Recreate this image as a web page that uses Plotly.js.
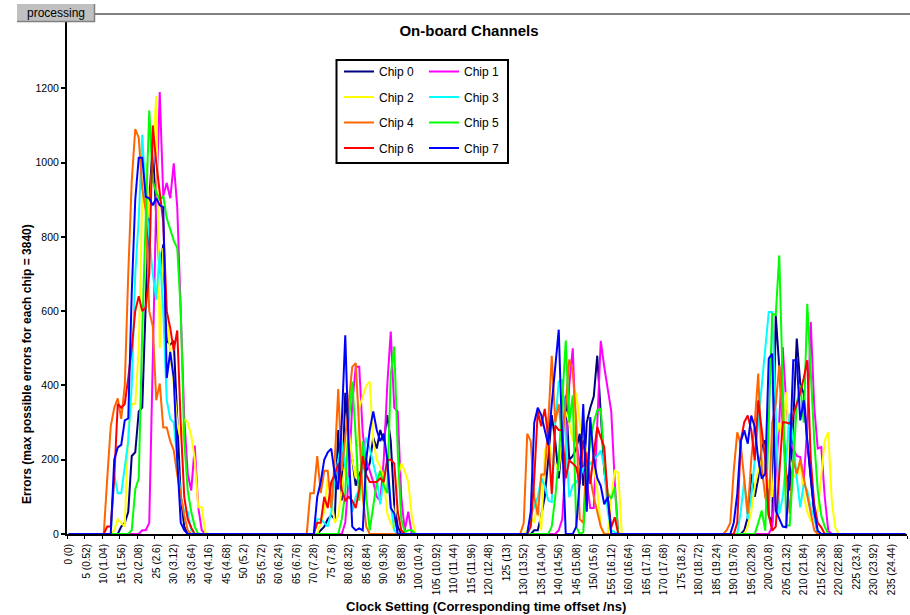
<!DOCTYPE html>
<html>
<head>
<meta charset="utf-8">
<script src="https://cdn.plot.ly/plotly-3.0.1.min.js"></script>
<style>
  html, body { margin: 0; padding: 0; background: #ffffff; }
  #chart { width: 910px; height: 615px; }
</style>
</head>
<body>
<div id="chart"></div>
<script>
// ---------------- DATA ----------------
// Clock settings (categories) 0..239
const clockSettings = Array.from({length: 240}, (_, i) => i);

// Tick positions and labels: "setting (time offset ns)"
const clockTicks = [0,5,10,15,20,25,30,35,40,45,50,55,60,65,70,75,80,85,90,95,100,105,110,115,
  120,125,130,135,140,145,150,155,160,165,170,175,180,185,190,195,200,205,210,215,220,225,230,235];
const tickLabels = ["0 (0)","5 (0.52)","10 (1.04)","15 (1.56)","20 (2.08)","25 (2.6)","30 (3.12)",
  "35 (3.64)","40 (4.16)","45 (4.68)","50 (5.2)","55 (5.72)","60 (6.24)","65 (6.76)","70 (7.28)",
  "75 (7.8)","80 (8.32)","85 (8.84)","90 (9.36)","95 (9.88)","100 (10.4)","105 (10.92)","110 (11.44)",
  "115 (11.96)","120 (12.48)","125 (13)","130 (13.52)","135 (14.04)","140 (14.56)","145 (15.08)",
  "150 (15.6)","155 (16.12)","160 (16.64)","165 (17.16)","170 (17.68)","175 (18.2)","180 (18.72)",
  "185 (19.24)","190 (19.76)","195 (20.28)","200 (20.8)","205 (21.32)","210 (21.84)","215 (22.36)",
  "220 (22.88)","225 (23.4)","230 (23.92)","235 (24.44)"];

const yTicks = [0, 200, 400, 600, 800, 1000, 1200];

const chipNames  = ["Chip 0","Chip 1","Chip 2","Chip 3","Chip 4","Chip 5","Chip 6","Chip 7"];
const chipColors = ["#000080","#FF00FF","#FFFF00","#00FFFF","#FF6600","#00FF00","#FF0000","#0000FF"];

// Each chip: errors are zero outside four bursts; each burst = first clock setting + values
const chip0Starts = [14, 70, 131, 192];
const chip0Bursts = [
  [0,20,30,60,210,220,330,340,620,900,1050,850,700,780,520,510,520,300,100,20,0],
  [0,0,10,20,40,50,40,280,90,380,250,200,130,160,180,170,190,260,230,280,250,320,250,80,20,0],
  [0,0,10,10,50,100,200,320,250,150,250,373,200,210,230,270,130,300,340,370,480,340,170,100,0],
  [0,10,45,162,100,150,234,252,50,30,589,450,300,162,117,300,526,405,378,250,150,54,0]
];
const chip1Starts = [20, 78, 139, 200];
const chip1Bursts = [
  [0,10,10,30,500,900,1190,910,945,904,998,880,600,314,162,117,238,72,10,0],
  [0,30,150,350,450,450,270,200,170,140,100,90,200,400,545,340,330,100,10,60,0],
  [0,10,40,200,400,500,250,190,170,140,70,70,300,520,450,390,330,140,0],
  [0,20,150,300,503,350,250,230,210,207,144,288,571,342,230,234,100,9,0]
];
const chip2Starts = [12, 71, 130, 193];
const chip2Bursts = [
  [0,10,40,30,20,280,350,350,500,900,1000,850,1000,1180,500,770,600,480,405,300,250,310,300,265,200,72,72,4,0],
  [0,30,60,150,100,30,50,120,190,280,200,150,340,370,400,410,250,200,180,150,55,30,10,150,190,170,140,50,0],
  [0,10,45,30,90,10,220,260,200,190,170,260,330,300,250,380,300,250,220,190,180,120,20,0,0,100,170,165,0],
  [0,20,60,130,171,200,170,130,100,252,300,250,382,207,160,150,198,100,60,36,40,63,150,252,274,90,18,0]
];
const chip3Starts = [12, 70, 130, 191];
const chip3Bursts = [
  [0,160,110,110,180,250,400,700,850,1075,900,800,700,630,760,600,360,310,300,200,100,60,60,10,0],
  [0,40,40,30,20,60,150,200,250,180,140,60,100,120,180,260,230,190,150,80,150,200,80,10,0],
  [0,0,50,72,99,150,130,90,86,300,410,414,250,99,131,140,153,176,185,189,200,210,225,180,60,10,5,0],
  [0,60,144,40,100,200,300,400,500,598,598,300,54,100,200,324,252,150,72,135,117,70,45,4,0]
];
const chip4Starts = [10, 67, 128, 187];
const chip4Bursts = [
  [0,150,290,340,365,310,400,700,950,1090,1067,930,870,600,560,360,405,287,287,250,225,160,108,50,10,0],
  [0,0,110,110,210,110,170,170,70,200,390,170,260,350,450,460,280,100,20,0],
  [0,0,30,270,250,100,50,160,160,300,480,300,350,250,350,470,440,300,40,30,220,150,100,60,20,0],
  [0,10,30,170,274,240,150,55,200,300,432,180,100,60,300,350,454,300,150,55,200,162,200,150,100,50,10,0]
];
const chip5Starts = [17, 77, 137, 196];
const chip5Bursts = [
  [0,10,120,150,550,850,1140,950,920,900,910,850,820,790,770,600,250,117,60,20,0],
  [0,40,110,300,410,260,90,250,100,10,70,140,170,130,110,430,505,220,40,5,10,10,0],
  [0,20,100,200,350,521,300,373,20,0,5,150,250,300,333,337,200,110,95,126,0],
  [0,30,63,9,300,593,590,750,400,23,23,200,350,400,300,620,450,250,117,50,20,0]
];
const chip6Starts = [10, 70, 131, 190];
const chip6Bursts = [
  [0,20,20,150,350,340,350,420,500,600,640,600,610,700,1100,1000,920,840,600,554,494,548,297,100,40,17,0],
  [0,30,30,100,70,140,160,190,120,90,100,90,70,120,210,160,140,140,140,150,140,200,200,190,60,10,0],
  [0,20,150,330,290,337,261,108,292,280,279,150,198,190,180,135,252,200,135,216,288,260,234,99,18,45,0],
  [0,30,250,301,319,280,198,360,279,200,50,9,20,150,301,300,297,320,351,380,420,468,200,80,30,18,0]
];
const chip7Starts = [12, 69, 130, 189];
const chip7Bursts = [
  [0,200,233,240,306,311,650,900,1013,1013,908,904,885,904,885,880,420,490,420,200,30,10,0],
  [0,0,100,140,200,220,230,160,120,300,535,230,20,10,15,10,200,280,330,280,250,270,200,70,55,0],
  [0,0,60,300,340,320,280,240,350,460,550,250,0,0,0,20,140,350,60,315,200,150,130,80,100,0],
  [0,30,108,250,279,243,319,288,200,149,163,472,486,63,40,20,18,200,468,468,306,360,250,150,60,9,0]
];

const allStarts = [chip0Starts, chip1Starts, chip2Starts, chip3Starts, chip4Starts, chip5Starts, chip6Starts, chip7Starts];
const allBursts = [chip0Bursts, chip1Bursts, chip2Bursts, chip3Bursts, chip4Bursts, chip5Bursts, chip6Bursts, chip7Bursts];

// ---------------- BUILD ----------------
function buildSeries(starts, bursts) {
  const y = clockSettings.map(() => 0);
  starts.forEach((s, k) => {
    bursts[k].forEach((v, j) => { if (s + j < y.length) y[s + j] = v; });
  });
  return y;
}

const FONT = "Arial, 'Liberation Sans', Helvetica, sans-serif";
const L = 67, R = 907, T = 14, B = 534;           // plot area in pixels
const PX = (p) => (p - L) / (R - L);
const PY = (p) => (B - p) / (B - T);

const traces = chipNames.map((name, i) => ({
  type: "scatter",
  mode: "lines",
  name: name,
  x: clockSettings,
  y: buildSeries(allStarts[i], allBursts[i]),
  line: { color: chipColors[i], width: 2 },
  legend: (i % 2 === 0) ? "legend" : "legend2",
  legendgroup: "g" + i,
  hoverinfo: "skip"
}));

const legendCommon = {
  xanchor: "left", yanchor: "top",
  bgcolor: "rgba(0,0,0,0)", borderwidth: 0,
  font: { family: FONT, size: 12, color: "#000" },
  traceorder: "grouped", tracegroupgap: 6.5, itemwidth: 30
};

const layout = {
  width: 910, height: 615,
  margin: { l: L, r: 910 - R, t: T, b: 615 - B },
  paper_bgcolor: "#ffffff",
  plot_bgcolor: "#ffffff",
  showlegend: true,
  title: {
    text: "On-board Channels",
    font: { family: FONT, size: 15, color: "#000", weight: 700 },
    x: PX(469), xref: "paper", xanchor: "center",
    y: 1 - 31 / 615, yref: "container", yanchor: "middle"
  },
  xaxis: {
    range: [-0.5, 239.5],
    tickmode: "array", tickvals: clockTicks, ticktext: tickLabels,
    tickangle: -90,
    ticks: "outside", ticklen: 4, tickcolor: "rgba(0,0,0,0)",
    tickfont: { family: FONT, size: 10, color: "#000" },
    minor: { tick0: -0.5, dtick: 5, ticks: "outside", ticklen: 3, tickwidth: 1, tickcolor: "#000", showgrid: false },
    showline: true, linecolor: "#000", linewidth: 2,
    showgrid: false, zeroline: false, layer: "below traces",
    fixedrange: true
  },
  yaxis: {
    range: [0, 1400],
    tickmode: "array", tickvals: yTicks,
    ticks: "outside", ticklen: 4, tickwidth: 2, tickcolor: "#000",
    tickfont: { family: FONT, size: 10.5, color: "#000" },
    showline: true, linecolor: "#000", linewidth: 2,
    showgrid: false, zeroline: false, layer: "below traces",
    fixedrange: true
  },
  legend: Object.assign({ x: PX(339), y: PY(57) }, legendCommon),
  legend2: Object.assign({ x: PX(424), y: PY(57) }, legendCommon),
  shapes: [
    // legend frame
    { type: "rect", xref: "paper", yref: "paper", x0: PX(336.5), x1: PX(508), y0: PY(163), y1: PY(60),
      line: { color: "#000", width: 2 }, fillcolor: "rgba(0,0,0,0)", layer: "above" },
    // top border line of the plot area
    { type: "line", xref: "paper", yref: "paper", x0: PX(95), x1: PX(911), y0: PY(14), y1: PY(14),
      line: { color: "#808080", width: 2 }, layer: "above" },
    // "processing" button
    { type: "rect", xref: "paper", yref: "paper", x0: PX(17), x1: PX(95), y0: PY(22), y1: PY(4),
      line: { width: 0 }, fillcolor: "#c0c0c0", layer: "above" },
    { type: "line", xref: "paper", yref: "paper", x0: PX(17), x1: PX(95), y0: PY(21.5), y1: PY(21.5),
      line: { color: "#808080", width: 1.5 }, layer: "above" },
    { type: "line", xref: "paper", yref: "paper", x0: PX(94.5), x1: PX(94.5), y0: PY(22), y1: PY(4),
      line: { color: "#808080", width: 1.5 }, layer: "above" }
  ],
  annotations: [
    { text: "processing", xref: "paper", yref: "paper", x: PX(56), y: PY(13),
      xanchor: "center", yanchor: "middle", showarrow: false,
      font: { family: FONT, size: 12, color: "#000" } },
    { text: "Errors (max possible errors for each chip = 3840)", xref: "paper", yref: "paper",
      x: PX(27), y: PY(364), xanchor: "center", yanchor: "middle", textangle: -90, showarrow: false,
      font: { family: FONT, size: 12, color: "#000", weight: 700 } },
    { text: "Clock Setting (Corresponding time offset /ns)", xref: "paper", yref: "paper",
      x: PX(486), y: PY(606), xanchor: "center", yanchor: "middle", showarrow: false,
      font: { family: FONT, size: 13, color: "#000", weight: 700 } }
  ]
};

Plotly.newPlot("chart", traces, layout, { displayModeBar: false, staticPlot: true });
</script>
</body>
</html>
